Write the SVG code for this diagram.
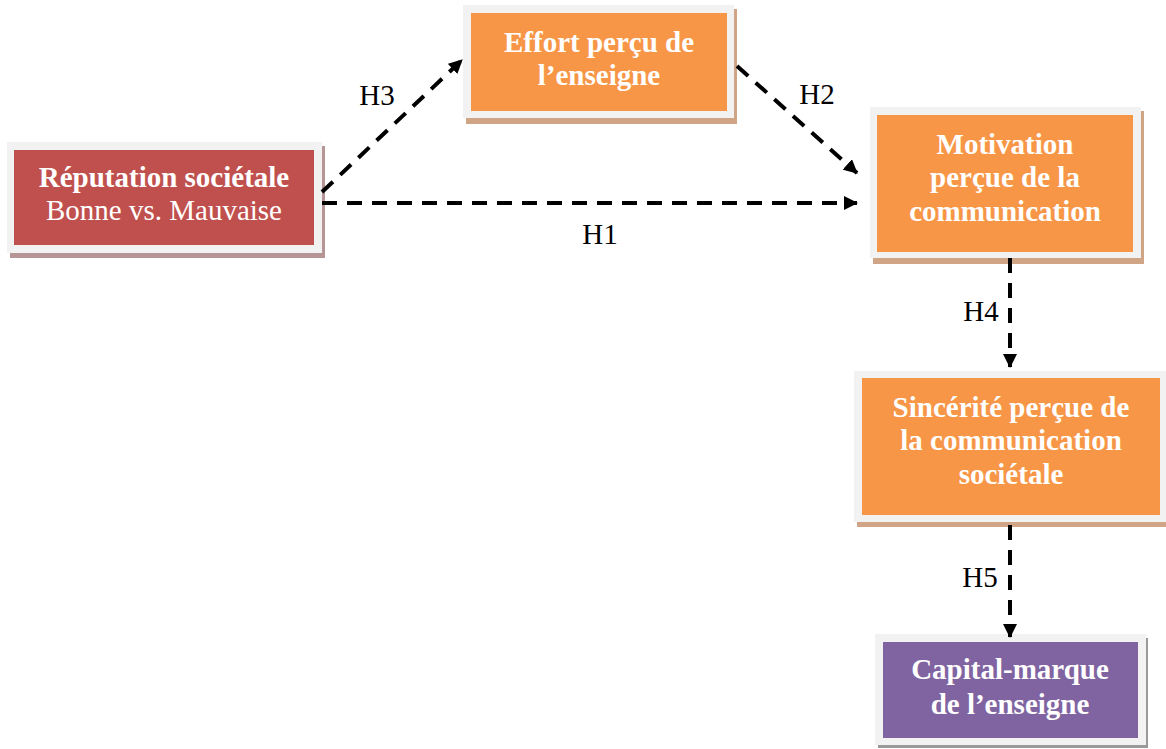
<svg xmlns="http://www.w3.org/2000/svg" width="1166" height="749" viewBox="0 0 1166 749">
<defs>
<marker id="ah" markerWidth="14" markerHeight="14" refX="13" refY="7" orient="auto" markerUnits="userSpaceOnUse">
<path d="M0,0 L14,7 L0,14 Z" fill="#000"/>
</marker>
<style>
.frame{fill:#f2f2f2}
.red{fill:#c0504d}
.org{fill:#f79646}
.pur{fill:#8064a2}
.sh-red{fill:#b59595}
.sh-org{fill:#d0a585}
.sh-pur{fill:#9a9a9a}
.t{font-family:"Liberation Serif","Times New Roman",serif;font-size:29px;fill:#fff;text-anchor:middle;font-weight:bold}
.n{font-weight:normal}
.lbl{font-family:"Liberation Serif","Times New Roman",serif;font-size:29px;fill:#000;text-anchor:middle}
.c{stroke:#000;stroke-width:4;fill:none;stroke-dasharray:15 10;marker-end:url(#ah)}
</style>
</defs>
<rect width="1166" height="749" fill="#fff"/>
<g id="n-reputation">
<rect class="sh-red" x="10" y="146" width="315" height="112"/>
<rect class="frame" x="7" y="142" width="315" height="111"/>
<rect class="red" x="14" y="150" width="300" height="95"/>
<text class="t" x="164" y="187">Réputation sociétale</text>
<text class="t n" x="164" y="220">Bonne vs. Mauvaise</text>
</g>
<g id="n-effort">
<rect class="sh-org" x="466" y="9" width="271" height="115"/>
<rect class="frame" x="463" y="5" width="271" height="113"/>
<rect class="org" x="471" y="13" width="256" height="98"/>
<text class="t" x="599" y="52">Effort perçu de</text>
<text class="t" x="599" y="85">l’enseigne</text>
</g>
<g id="n-motivation">
<rect class="sh-org" x="873" y="111" width="271" height="153"/>
<rect class="frame" x="870" y="107" width="271" height="151"/>
<rect class="org" x="877" y="115" width="256" height="137"/>
<text class="t" x="1005" y="154">Motivation</text>
<text class="t" x="1005" y="187">perçue de la</text>
<text class="t" x="1005" y="221">communication</text>
</g>
<g id="n-sincerite">
<rect class="sh-org" x="857" y="375" width="309" height="152"/>
<rect class="frame" x="854" y="371" width="312" height="151"/>
<rect class="org" x="862" y="378" width="298" height="137"/>
<text class="t" x="1011" y="417">Sincérité perçue de</text>
<text class="t" x="1011" y="450">la communication</text>
<text class="t" x="1011" y="484">sociétale</text>
</g>
<g id="n-capital">
<rect class="sh-pur" x="878" y="638" width="270" height="110"/>
<rect class="frame" x="875" y="634" width="271" height="111"/>
<rect class="pur" x="883" y="642" width="255" height="96"/>
<text class="t" x="1010" y="679">Capital-marque</text>
<text class="t" x="1010" y="714">de l’enseigne</text>
</g>
<g id="connectors">
<path class="c" d="M322,192 L462,60"/>
<path class="c" d="M737,66 L857,173"/>
<path class="c" d="M322,203 L857,203"/>
<path class="c" d="M1010,258 L1010,367"/>
<path class="c" d="M1010,525 L1010,637"/>
</g>
<g id="labels">
<text class="lbl" x="377" y="105">H3</text>
<text class="lbl" x="817" y="104">H2</text>
<text class="lbl" x="600" y="244">H1</text>
<text class="lbl" x="981" y="321">H4</text>
<text class="lbl" x="980" y="587">H5</text>
</g>
</svg>
